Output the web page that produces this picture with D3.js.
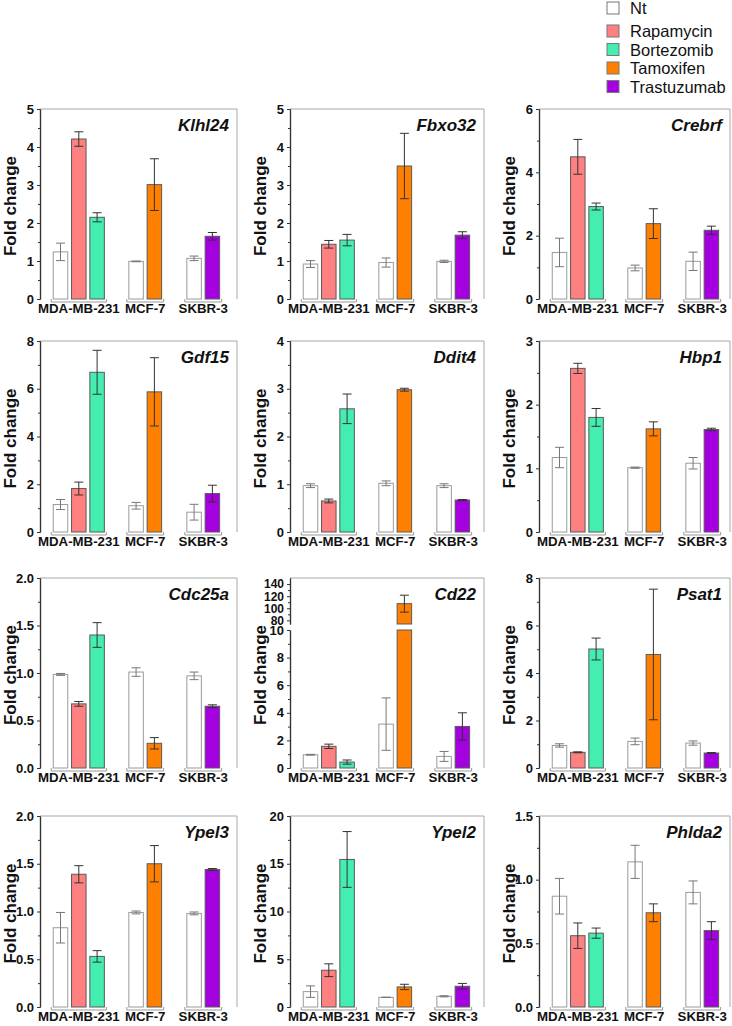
<!DOCTYPE html>
<html><head><meta charset="utf-8">
<script src="https://cdn.jsdelivr.net/npm/d3@7"></script>
<style>
body{margin:0;background:#fff}
svg{display:block}
text{font-family:"Liberation Sans",Arial,Helvetica,sans-serif}
</style>
</head><body>
<svg id="chart" width="732" height="1026"></svg>
<script>
// ---------------- data ----------------
const cellLines = ["MDA-MB-231", "MCF-7", "SKBR-3"];
const treatments = ["Nt", "Rapamycin", "Bortezomib", "Tamoxifen", "Trastuzumab"];
const treatmentColors = ["#ffffff", "#ff8080", "#44eeb0", "#ff8000", "#a400e0"];
// bar order in every panel
const barCellLine = [0, 0, 0, 1, 1, 2, 2];
const barTreatment = [0, 1, 2, 0, 3, 0, 4];
const barInGroup = [0, 1, 2, 0, 1, 0, 1];

const genes = ["Klhl24", "Fbxo32", "Crebrf", "Gdf15", "Ddit4", "Hbp1",
               "Cdc25a", "Cd22", "Psat1", "Ypel3", "Ypel2", "Phlda2"];
const yMax  = [5, 5, 6, 8, 4, 3, 2, 10, 8, 2, 20, 1.5];
const yStep = [1, 1, 2, 2, 1, 1, 0.5, 2, 2, 0.5, 5, 0.5];

const klhl24Mean = [1.24, 4.21, 2.15, 0.99, 3.01, 1.07, 1.65];
const klhl24Err  = [0.23, 0.19, 0.12, 0.01, 0.68, 0.06, 0.10];
const fbxo32Mean = [0.92, 1.44, 1.55, 0.96, 3.50, 0.99, 1.68];
const fbxo32Err  = [0.09, 0.10, 0.15, 0.12, 0.86, 0.03, 0.09];
const crebrfMean = [1.47, 4.49, 2.92, 0.98, 2.38, 1.19, 2.17];
const crebrfErr  = [0.45, 0.55, 0.11, 0.09, 0.47, 0.29, 0.13];
const gdf15Mean  = [1.15, 1.82, 6.69, 1.10, 5.87, 0.83, 1.61];
const gdf15Err   = [0.21, 0.27, 0.92, 0.14, 1.43, 0.33, 0.35];
const ddit4Mean  = [0.97, 0.65, 2.58, 1.02, 2.98, 0.97, 0.67];
const ddit4Err   = [0.04, 0.04, 0.31, 0.05, 0.03, 0.04, 0.01];
const hbp1Mean   = [1.17, 2.57, 1.80, 1.01, 1.62, 1.08, 1.61];
const hbp1Err    = [0.16, 0.08, 0.14, 0.01, 0.11, 0.09, 0.02];
const cdc25aMean = [0.985, 0.675, 1.40, 1.01, 0.26, 0.97, 0.65];
const cdc25aErr  = [0.01, 0.025, 0.13, 0.045, 0.06, 0.04, 0.015];
const cd22Mean   = [0.96, 1.57, 0.43, 3.18, 107.6, 0.84, 3.01];
const cd22Err    = [0.03, 0.16, 0.15, 1.90, 14.0, 0.36, 0.99];
const psat1Mean  = [0.95, 0.66, 5.01, 1.12, 4.78, 1.05, 0.63];
const psat1Err   = [0.07, 0.02, 0.46, 0.14, 2.75, 0.09, 0.02];
const ypel3Mean  = [0.83, 1.39, 0.53, 0.99, 1.50, 0.98, 1.44];
const ypel3Err   = [0.16, 0.09, 0.06, 0.015, 0.19, 0.015, 0.01];
const ypel2Mean  = [1.61, 3.85, 15.45, 1.01, 2.10, 1.12, 2.17];
const ypel2Err   = [0.60, 0.67, 2.92, 0.02, 0.28, 0.06, 0.30];
const phlda2Mean = [0.87, 0.56, 0.58, 1.14, 0.74, 0.90, 0.60];
const phlda2Err  = [0.14, 0.10, 0.04, 0.13, 0.07, 0.09, 0.07];

// broken axis of Cd22
const cd22UpperMin = 74, cd22UpperMax = 150;
const cd22UpperTicks = [80, 100, 120, 140];
const cd22UpperMinor = [90, 110, 130];

const meanList = [klhl24Mean, fbxo32Mean, crebrfMean, gdf15Mean, ddit4Mean, hbp1Mean,
                  cdc25aMean, cd22Mean, psat1Mean, ypel3Mean, ypel2Mean, phlda2Mean];
const errList  = [klhl24Err, fbxo32Err, crebrfErr, gdf15Err, ddit4Err, hbp1Err,
                  cdc25aErr, cd22Err, psat1Err, ypel3Err, ypel2Err, phlda2Err];

// ---------------- layout ----------------
const svg = d3.select("#chart");
const colAxisX = [40, 290, 539];
const colRight = [237, 484, 730];
const rowTop = [109, 341, 578, 816];
const rowBottom = [299, 532, 768, 1007];
const groupOffset = [0, 4.13, 7.3];
const x = d3.scaleLinear().domain([0, 1]).range([20.5, 38.8]);
const barW = 14.5;
const capW = 4.5;

function styleAxis(sel, fontSize) {
  sel.selectAll(".domain").attr("stroke", "#333").attr("stroke-width", 1.2);
  sel.selectAll(".tick line").attr("stroke", "#333").attr("stroke-width", 1);
  sel.selectAll(".tick text").attr("font-size", fontSize).attr("font-weight", "bold")
     .attr("fill", "#111").style("font-family", '"Liberation Sans",Arial,sans-serif');
}

genes.forEach((gene, i) => {
  const col = i % 3, row = Math.floor(i / 3);
  const ax = colAxisX[col], w = colRight[col] - ax;
  const top = rowTop[row], bottom = rowBottom[row];
  const g = svg.append("g").attr("transform", `translate(${ax},0)`);
  const means = meanList[i], errs = errList[i];
  const isBroken = gene === "Cd22";

  let yv, yLow, yUp;
  if (isBroken) {
    yLow = d3.scaleLinear().domain([0, yMax[i]]).range([bottom, top + 52]);
    yUp = d3.scaleLinear().domain([cd22UpperMin, cd22UpperMax]).range([top + 46, top]);
    yv = v => v <= yMax[i] ? yLow(v) : yUp(v);
  } else {
    yLow = d3.scaleLinear().domain([0, yMax[i]]).range([bottom, top]);
    yv = yLow;
  }

  // frame (top and right)
  g.append("path")
    .attr("d", `M0,${top}H${w}V${bottom}`)
    .attr("fill", "none").attr("stroke", "#a8a8a8").attr("stroke-width", 1);

  const fmt = yStep[i] < 1 ? d3.format(".1f") : d3.format("d");
  const majors = d3.range(0, yMax[i] + 1e-9, yStep[i]);
  const minors = majors.slice(0, -1).map(v => v + yStep[i] / 2);

  const axG = g.append("g")
    .call(d3.axisLeft(yLow).tickValues(majors).tickSize(3).tickSizeOuter(0).tickPadding(3).tickFormat(fmt));
  styleAxis(axG, 13);
  const minG = g.append("g")
    .call(d3.axisLeft(yLow).tickValues(minors).tickSize(2).tickSizeOuter(0).tickFormat(""));
  styleAxis(minG, 13);

  if (isBroken) {
    const upG = g.append("g")
      .call(d3.axisLeft(yUp).tickValues(cd22UpperTicks).tickSize(3).tickSizeOuter(0).tickPadding(3).tickFormat(d3.format("d")));
    styleAxis(upG, 12);
    const upMin = g.append("g")
      .call(d3.axisLeft(yUp).tickValues(cd22UpperMinor).tickSize(2).tickSizeOuter(0).tickFormat(""));
    styleAxis(upMin, 12);
  }

  // y title
  g.append("text")
    .attr("transform", `translate(-24,${(top + bottom) / 2 + 2}) rotate(-90)`)
    .attr("text-anchor", "middle")
    .attr("font-size", 17).attr("font-weight", "bold").attr("fill", "#111")
    .text("Fold change");

  // gene title
  g.append("text")
    .attr("x", w - 8).attr("y", top + 22)
    .attr("text-anchor", "end")
    .attr("font-size", 17).attr("font-weight", "bold").attr("font-style", "italic").attr("fill", "#111")
    .text(gene);

  // bars
  means.forEach((m, j) => {
    const t = barTreatment[j];
    const cx = x(groupOffset[barCellLine[j]] + barInGroup[j]);
    const stroke = t === 0 ? "#9a9a9a" : "#5a5a5a";
    if (isBroken && m > yMax[i]) {
      g.append("rect")
        .attr("x", cx - barW / 2).attr("y", yLow(yMax[i]))
        .attr("width", barW).attr("height", bottom - yLow(yMax[i]))
        .attr("fill", treatmentColors[t]).attr("stroke", stroke).attr("stroke-width", 1);
      g.append("rect")
        .attr("x", cx - barW / 2).attr("y", yUp(m))
        .attr("width", barW).attr("height", yUp(cd22UpperMin) - yUp(m))
        .attr("fill", treatmentColors[t]).attr("stroke", stroke).attr("stroke-width", 1);
    } else {
      g.append("rect")
        .attr("x", cx - barW / 2).attr("y", yv(m))
        .attr("width", barW).attr("height", bottom - yv(m))
        .attr("fill", treatmentColors[t]).attr("stroke", stroke).attr("stroke-width", 1);
    }
    const e = errs[j];
    const yHi = yv(m + e), yLo = yv(m - e);
    const ec = t === 0 ? "#777" : "#333";
    g.append("path")
      .attr("d", `M${cx},${yHi}V${yLo}M${cx - capW},${yHi}H${cx + capW}M${cx - capW},${yLo}H${cx + capW}`)
      .attr("fill", "none").attr("stroke", ec).attr("stroke-width", 1);
  });

  // group brackets and labels
  cellLines.forEach((cl, c) => {
    const idx = d3.range(barCellLine.length).filter(j => barCellLine[j] === c);
    const x0 = x(groupOffset[c] + barInGroup[idx[0]]) - barW / 2 - 2;
    const x1 = x(groupOffset[c] + barInGroup[idx[idx.length - 1]]) + barW / 2 + 2;
    g.append("path")
      .attr("d", `M${x0},${bottom}V${bottom + 3}H${x1}V${bottom}`)
      .attr("fill", "none").attr("stroke", "#999").attr("stroke-width", 1);
    g.append("text")
      .attr("x", (x0 + x1) / 2).attr("y", bottom + 14)
      .attr("text-anchor", "middle")
      .attr("font-size", 13.25).attr("font-weight", "bold").attr("fill", "#111")
      .text(cl);
  });
});

// ---------------- legend ----------------
const legendY = [8, 31, 49.5, 68, 86.5];
const leg = svg.append("g");
treatments.forEach((t, k) => {
  leg.append("rect")
    .attr("x", 607).attr("y", legendY[k] - 6).attr("width", 12).attr("height", 12)
    .attr("fill", treatmentColors[k]).attr("stroke", "#777").attr("stroke-width", 1);
  leg.append("text")
    .attr("x", 630).attr("y", legendY[k] + 6)
    .attr("font-size", 16.5).attr("fill", "#111")
    .text(t);
});
</script>
</body></html>
